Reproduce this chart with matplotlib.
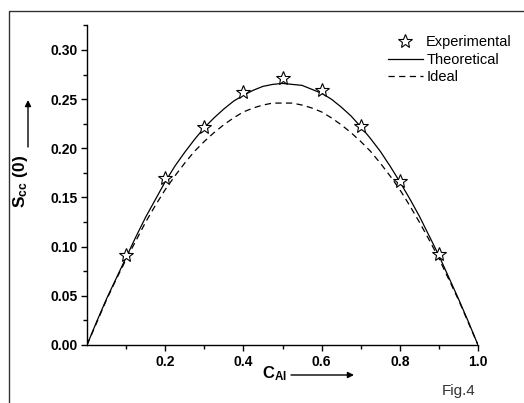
import matplotlib
matplotlib.use("Agg")
import matplotlib.pyplot as plt
from matplotlib.lines import Line2D

plt.rcParams['font.family'] = ['Liberation Sans', 'DejaVu Sans']
plt.rcParams['mathtext.fontset'] = 'custom'
plt.rcParams['mathtext.rm'] = 'Liberation Sans'
plt.rcParams['mathtext.bf'] = 'Liberation Sans:bold'
plt.rcParams['mathtext.it'] = 'Liberation Sans:italic'

# experimental points
c_exp = [0.1, 0.2, 0.3, 0.4, 0.5, 0.6, 0.7, 0.8, 0.9]
s_exp = [0.092, 0.170, 0.222, 0.257, 0.271, 0.259, 0.223, 0.167, 0.093]

# curves every 0.025
c_curve = [0.0, 0.025, 0.05, 0.075, 0.1, 0.125, 0.15, 0.175, 0.2, 0.225,
           0.25, 0.275, 0.3, 0.325, 0.35, 0.375, 0.4, 0.425, 0.45, 0.475,
           0.5, 0.525, 0.55, 0.575, 0.6, 0.625, 0.65, 0.675, 0.7, 0.725,
           0.75, 0.775, 0.8, 0.825, 0.85, 0.875, 0.9, 0.925, 0.95, 0.975, 1.0]
s_theo = [0.0, 0.024, 0.047, 0.068, 0.089, 0.110, 0.130, 0.148, 0.166, 0.182,
          0.196, 0.209, 0.221, 0.231, 0.240, 0.248, 0.254, 0.259, 0.263, 0.265,
          0.266, 0.265, 0.264, 0.260, 0.256, 0.250, 0.242, 0.233, 0.222, 0.210,
          0.197, 0.182, 0.166, 0.149, 0.131, 0.111, 0.091, 0.069, 0.047, 0.024, 0.0]
s_ideal = [0.0, 0.023, 0.046, 0.067, 0.087, 0.106, 0.125, 0.142, 0.158, 0.172,
           0.185, 0.197, 0.207, 0.216, 0.224, 0.231, 0.237, 0.241, 0.244, 0.246,
           0.246, 0.246, 0.244, 0.241, 0.237, 0.231, 0.224, 0.216, 0.207, 0.197,
           0.185, 0.172, 0.158, 0.142, 0.125, 0.107, 0.088, 0.067, 0.046, 0.023, 0.0]

W, H = 524, 403
fig = plt.figure(figsize=(W / 100, H / 100), dpi=100)
ax = fig.add_axes([87 / W, 1 - 345 / H, (478 - 87) / W, (345 - 25) / H])

ax.plot(c_curve, s_theo, color='black', lw=0.9, label='Theoretical')
ax.plot(c_curve, s_ideal, color='black', lw=0.9, dashes=(5, 3.5), label='Ideal')
ax.plot(c_exp, s_exp, linestyle='none', marker='*', ms=10, mfc='white',
        mec='black', mew=0.8, label='Experimental')

ax.set_xlim(0, 1.0)
ax.set_ylim(0, 0.3254)
ax.set_xticks([0.2, 0.4, 0.6, 0.8, 1.0])
ax.set_xticklabels(['0.2', '0.4', '0.6', '0.8', '1.0'])
ax.set_xticks([0.1, 0.3, 0.5, 0.7, 0.9], minor=True)
ax.set_yticks([0.0, 0.05, 0.10, 0.15, 0.20, 0.25, 0.30])
ax.set_yticklabels(['0.00', '0.05', '0.10', '0.15', '0.20', '0.25', '0.30'])
ax.set_yticks([0.025, 0.075, 0.125, 0.175, 0.225, 0.275, 0.325], minor=True)

for sp in ['top', 'right']:
    ax.spines[sp].set_visible(False)
for sp in ['left', 'bottom']:
    ax.spines[sp].set_linewidth(1.0)

ax.tick_params(which='major', direction='out', length=4, width=1.0,
               labelsize=10, pad=3)
ax.tick_params(which='minor', direction='out', length=3, width=1.0)
for lab in ax.get_xticklabels() + ax.get_yticklabels():
    lab.set_fontweight('bold')

# legend: order as in the figure
h, l = ax.get_legend_handles_labels()
order = [2, 0, 1]
ax.legend([h[i] for i in order], [l[i] for i in order], frameon=False,
          loc='upper right', bbox_to_anchor=(512 / W, 1 - 35 / H),
          bbox_transform=fig.transFigure, fontsize=10.5, handlelength=2.4,
          handletextpad=0.25, labelspacing=0.25, borderpad=0, borderaxespad=0,
          numpoints=1)

# axis labels with arrows
fig.text(20 / W, 1 - 181 / H, r'S$_{\mathbf{cc}}$ (0)', rotation=90,
         ha='center', va='center', fontsize=12.5, fontweight='bold')
fig.text(262 / W, 1 - 378.5 / H, r'C$_{\mathbf{Al}}$', ha='left', va='baseline',
         fontsize=12, fontweight='bold')
arrow = dict(arrowstyle='-|>', lw=1.0, color='black', mutation_scale=9,
             shrinkA=0, shrinkB=0)
ax.annotate('', xy=(28, H - 100), xytext=(28, H - 147),
            xycoords='figure pixels', textcoords='figure pixels', arrowprops=arrow)
ax.annotate('', xy=(354, H - 375), xytext=(291, H - 375),
            xycoords='figure pixels', textcoords='figure pixels', arrowprops=arrow)

fig.text(442 / W, 1 - 395 / H, 'Fig.4', ha='left', va='baseline',
         fontsize=11, color='#333333')

# outer frame (top and left edges visible)
fig.add_artist(Line2D([9 / W, 9 / W, 1.0], [0.0, 1 - 11 / H, 1 - 11 / H],
                      transform=fig.transFigure, color='#333333', lw=1.0))

fig.savefig('out.png', dpi=100)
